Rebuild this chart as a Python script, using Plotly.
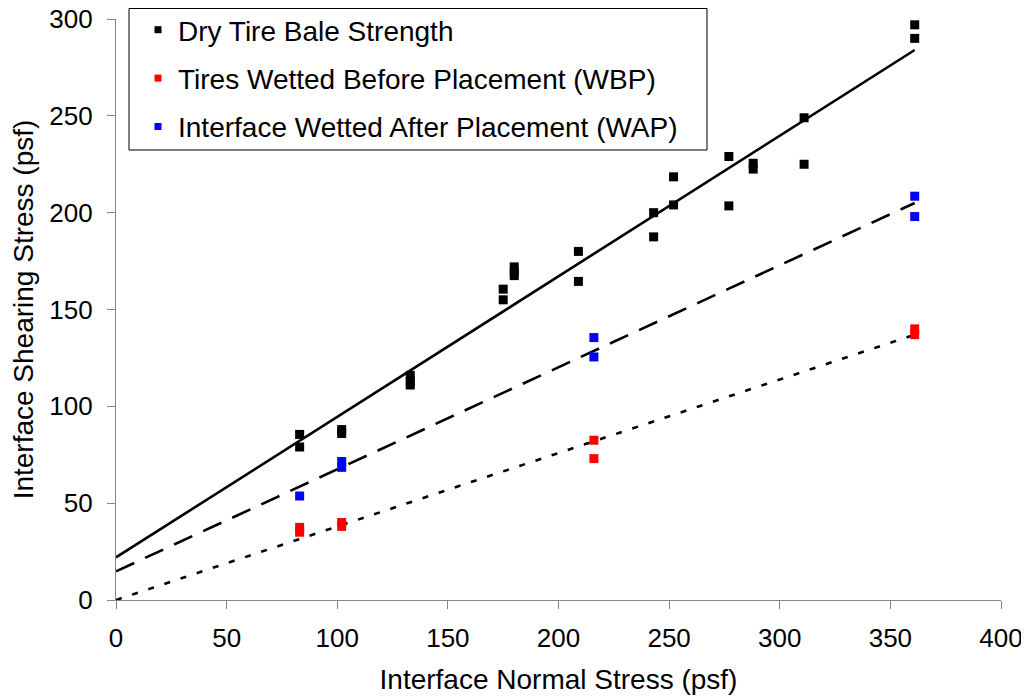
import plotly.graph_objects as go

# ---- data ----
dry_x = [83, 83, 102, 102, 133, 133, 133, 175, 175, 180, 180, 180,
         209, 209, 243, 243, 252, 252, 277, 277, 288, 288, 311, 311, 361, 361]
dry_y = [85.5, 79, 88, 86, 116, 113, 111, 160.5, 155, 172, 169.5, 167.5,
         180, 164.5, 200, 187.5, 218.5, 204, 229, 203.5, 225.5, 222.5, 249, 225, 297, 290]

wbp_x = [83, 83, 102, 102, 216, 216, 361, 361]
wbp_y = [37.5, 35, 40, 38, 82.5, 73, 140, 137]

wap_x = [83, 102, 102, 216, 216, 361, 361]
wap_y = [53.7, 71.5, 68.5, 135.5, 125.5, 208.5, 198]

# fitted trendlines (end points)
fit_x = [0, 361]
fit_dry = [22, 284]
fit_wap = [14.8, 205]
fit_wbp = [0, 137]

names = ["Dry Tire Bale Strength",
         "Tires Wetted Before Placement (WBP)",
         "Interface Wetted After Placement (WAP)"]
colors = ["#000000", "#ff0000", "#0000ff"]

x_ticks = [0, 50, 100, 150, 200, 250, 300, 350, 400]
y_ticks = [0, 50, 100, 150, 200, 250, 300]

FONT = "Liberation Sans, Arial, sans-serif"

# figure geometry (the page adds an 8px body margin)
W, H = 1021, 690
ML, MR, MT, MB = 108, 28, 11, 98
PW, PH = W - ML - MR, H - MT - MB


def px_x(fx):
    return (fx - ML) / PW


def px_y(fy):
    return (H - MB - fy) / PH


fig = go.Figure()

# trendlines
fig.add_trace(go.Scatter(x=fit_x, y=fit_dry, mode="lines", showlegend=False,
                         line=dict(color="black", width=2.6), hoverinfo="skip"))
fig.add_trace(go.Scatter(x=fit_x, y=fit_wap, mode="lines", showlegend=False,
                         line=dict(color="black", width=2.6, dash="20px,12px"), hoverinfo="skip"))
fig.add_trace(go.Scatter(x=fit_x, y=fit_wbp, mode="lines", showlegend=False,
                         line=dict(color="black", width=2.6, dash="6px,11px"), hoverinfo="skip"))

# data points
for xs, ys, nm, c in [(dry_x, dry_y, names[0], colors[0]),
                      (wbp_x, wbp_y, names[1], colors[1]),
                      (wap_x, wap_y, names[2], colors[2])]:
    fig.add_trace(go.Scatter(x=xs, y=ys, mode="markers", name=nm, showlegend=False,
                             marker=dict(symbol="square", size=9, color=c)))

# legend entries (smaller symbols like the reference)
for i, (nm, c) in enumerate(zip(names, colors)):
    fig.add_trace(go.Scatter(x=[None], y=[None], mode="markers", name=nm,
                             legendgroup=f"g{i}", showlegend=True,
                             marker=dict(symbol="square", size=7, color=c)))

axis_common = dict(showgrid=False, zeroline=False, showline=True, automargin=False,
                   linecolor="#868686", linewidth=1.3, ticks="outside",
                   ticklen=8, tickcolor="#868686", tickwidth=1.3,
                   ticklabeloverflow="allow",
                   tickfont=dict(family=FONT, size=26, color="black"))

fig.update_xaxes(range=[0, 400], tickvals=x_ticks, ticktext=[str(v) for v in x_ticks],
                 title=dict(text="Interface Normal Stress (psf)",
                            font=dict(family=FONT, size=28, color="black"), standoff=17),
                 ticklabelstandoff=7, **axis_common)
fig.update_yaxes(range=[0, 300], tickvals=y_ticks, ticktext=[str(v) for v in y_ticks],
                 title=dict(text="Interface Shearing Stress (psf)",
                            font=dict(family=FONT, size=28, color="black"), standoff=10),
                 ticklabelstandoff=9, **axis_common)

# legend frame
fig.add_shape(type="rect", xref="paper", yref="paper",
              x0=px_x(121), x1=px_x(699), y0=px_y(142), y1=px_y(0.5),
              line=dict(color="black", width=1), fillcolor="white", layer="below")

fig.update_layout(
    width=W, height=H,
    margin=dict(l=ML, r=MR, t=MT, b=MB, pad=0, autoexpand=False),
    paper_bgcolor="white", plot_bgcolor="white",
    font=dict(family=FONT, size=28, color="black"),
    showlegend=True,
    legend=dict(x=px_x(130), y=px_y(-3), xanchor="left", yanchor="top",
                bgcolor="rgba(0,0,0,0)", borderwidth=0,
                font=dict(family=FONT, size=28, color="black"),
                traceorder="grouped", tracegroupgap=9,
                itemsizing="trace"),
)

fig.write_html("out.html")
